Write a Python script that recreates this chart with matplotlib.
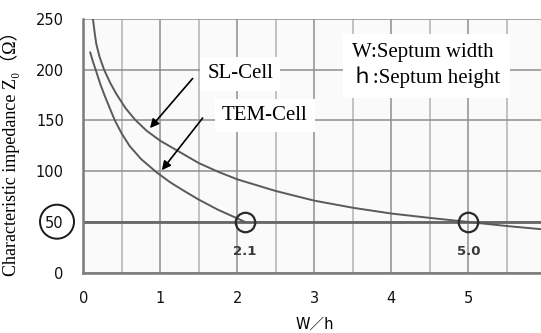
import matplotlib
matplotlib.use("Agg")
import matplotlib.pyplot as plt
from matplotlib.patches import Ellipse
from matplotlib.ticker import MultipleLocator

# ---- data ----
sl_x = [0.125, 0.15, 0.17, 0.21, 0.27, 0.35, 0.43, 0.55, 0.67, 0.82, 1.0, 1.25,
        1.5, 1.75, 2.0, 2.5, 3.0, 3.5, 4.0, 4.5, 5.0, 5.5, 6.0]
sl_y = [250, 235, 225, 213, 200, 187, 176, 162, 151, 140, 130, 119,
        108, 99.5, 92, 80.5, 71, 64, 58.3, 54, 50, 46, 42.5]

tem_x = [0.09, 0.125, 0.165, 0.22, 0.28, 0.35, 0.41, 0.5, 0.6, 0.75, 0.95, 1.13,
         1.3, 1.5, 1.75, 2.0, 2.1]
tem_y = [217, 208, 199, 186, 174, 161, 150, 137, 125, 112, 99, 89,
         81, 72, 62, 53.5, 50]

target_z = 50
match_w = [2.1, 5.0]
x_ticks = [0, 1, 2, 3, 4, 5, 6]
y_ticks = [0, 50, 100, 150, 200, 250]

W, H = 541, 333
fig = plt.figure(figsize=(W / 100, H / 100), dpi=100)
ax = fig.add_axes([83.3 / W, 60.3 / H, 462 / W, 253.7 / H])
ax.set_facecolor('#fafafa')
ax.set_xlim(0, 6)
ax.set_ylim(0, 250)

ax.set_xticks(x_ticks)
ax.set_yticks(y_ticks)
ax.xaxis.set_minor_locator(MultipleLocator(0.5))
ax.grid(which='major', axis='both', color='#8e8e8e', lw=1.1, zorder=0)
ax.grid(which='minor', axis='x', color='#b8b8b8', lw=1.2, zorder=0)
ax.set_axisbelow(True)
ax.tick_params(which='both', length=0)
ax.tick_params(axis='y', pad=14, labelsize=10.5, labelcolor='#111111')
ax.tick_params(axis='x', pad=13, labelsize=10.5, labelcolor='#111111')

for s in ['top', 'right']:
    ax.spines[s].set_visible(False)
for s in ['left', 'bottom']:
    ax.spines[s].set_color('#7a7a7a')
    ax.spines[s].set_linewidth(1.8)

# 50 ohm line
ax.axhline(target_z, color='#666666', lw=2.0, zorder=2)

# curves
ax.plot(sl_x, sl_y, color='#5a5a5a', lw=1.4, zorder=3, solid_joinstyle='round')
ax.plot(tem_x, tem_y, color='#5a5a5a', lw=1.4, zorder=3, solid_joinstyle='round')

# circles at match points
ax.plot(match_w, [target_z] * len(match_w), linestyle='none', marker='o', ms=14,
        mfc='none', mec='#2a2a2a', mew=1.6, zorder=4)
for w in match_w:
    ax.text(w, 21, f"{w:.1f}", ha='center', va='center', fontsize=9.5,
            fontweight='bold', color='#3a3a3a', family='DejaVu Sans', zorder=5)

serif = ['Liberation Serif', 'DejaVu Serif', 'Noto Sans CJK JP']
box = dict(boxstyle='square,pad=0.35', fc='white', ec='none')

ax.text(1.61, 196, "SL-Cell", ha='left', va='center', fontsize=15,
        family=serif, bbox=box, zorder=5)
ax.text(1.80, 155, "TEM-Cell", ha='left', va='center', fontsize=15,
        family=serif, bbox=box, zorder=5)
ax.text(3.49, 204, "W:Septum width\nｈ:Septum height", ha='left', va='center',
        fontsize=15, family=serif, linespacing=1.3,
        bbox=dict(boxstyle='square,pad=0.45', fc='white', ec='none'), zorder=5)

arrow = dict(arrowstyle='-|>', color='black', lw=1.2, mutation_scale=13,
             shrinkA=0, shrinkB=0)
ax.annotate('', xy=(0.866, 142.5), xytext=(1.42, 191.4), arrowprops=arrow, zorder=6)
ax.annotate('', xy=(1.02, 101), xytext=(1.55, 152.4), arrowprops=arrow, zorder=6)

ax.set_xlabel("W／h", fontsize=10.5, family=['DejaVu Sans', 'Noto Sans CJK JP'])
ax.xaxis.set_label_coords(0.5, -0.175)
ax.set_ylabel("Characteristic impedance Z₀（Ω）", fontsize=13, family=serif)
ax.yaxis.set_label_coords(-0.137, 0.485)

# circle around the 50 tick label
fig.add_artist(Ellipse((57 / W, 1 - 221.7 / H), 34 / W, 34 / H,
                       transform=fig.transFigure, fill=False, ec='#1a1a1a', lw=1.4))

fig.savefig("out.png", dpi=100)
